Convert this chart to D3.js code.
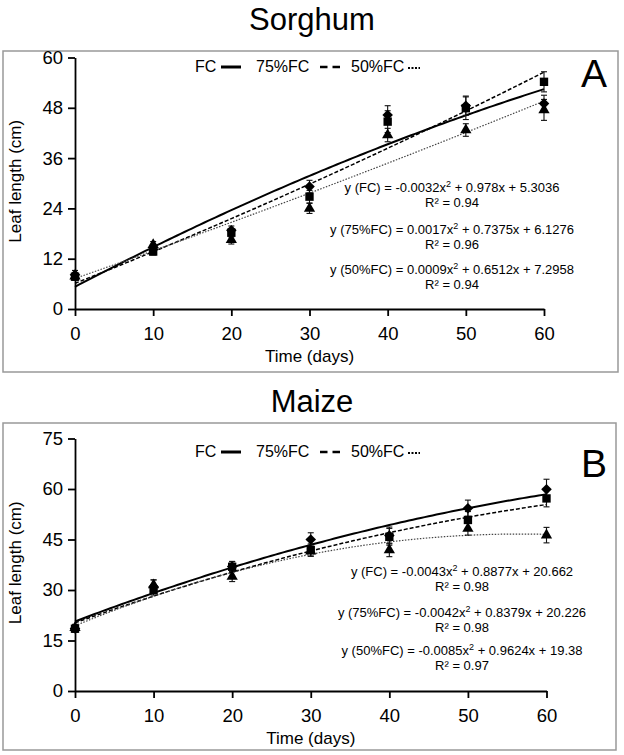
<!DOCTYPE html>
<html>
<head>
<meta charset="utf-8">
<script src="https://cdn.jsdelivr.net/npm/d3@7"></script>
<style>
  body { margin: 0; background: #fff; }
  text { font-family: Arial, "Liberation Sans", sans-serif; fill: #000; }
</style>
</head>
<body>
<script>
// data
const days = [0, 10, 20, 30, 40, 50, 60];
const seriesNames = ["FC", "75%FC", "50%FC"];

// sorghum
const sorghumFC = [8.2, 14.2, 18.8, 29.2, 46.3, 48.5, 49.0];
const sorghum75 = [7.7, 13.7, 18.2, 26.8, 44.7, 47.9, 54.2];
const sorghum50 = [7.8, 15.3, 16.5, 24.0, 41.5, 42.7, 47.5];
const sorghumFCErr = [1.0, 0.8, 1.0, 1.5, 2.2, 2.3, 2.0];
const sorghum75Err = [0.8, 0.8, 1.0, 1.5, 2.6, 2.7, 2.4];
const sorghum50Err = [0.8, 0.8, 1.0, 1.2, 1.6, 1.5, 2.5];
const sorghumFit = [[-0.0032, 0.978, 5.3036], [0.0017, 0.7375, 6.1276], [0.0009, 0.6512, 7.2958]];
const sorghumR2 = [0.94, 0.96, 0.94];
const sorghumTicks = [0, 12, 24, 36, 48, 60];

// maize
const maizeFC = [18.6, 31.0, 37.0, 45.0, 46.2, 54.3, 59.9];
const maize75 = [18.5, 30.0, 36.9, 41.9, 45.8, 50.8, 57.2];
const maize50 = [18.8, 31.5, 34.0, 41.5, 41.9, 48.3, 46.3];
const maizeFCErr = [1.0, 2.0, 1.5, 2.0, 2.5, 2.4, 3.0];
const maize75Err = [1.0, 1.5, 1.5, 1.8, 2.5, 2.5, 2.5];
const maize50Err = [1.0, 1.5, 1.5, 1.5, 2.0, 2.0, 2.3];
const maizeFit = [[-0.0043, 0.8877, 20.662], [-0.0042, 0.8379, 20.226], [-0.0085, 0.9624, 19.38]];
const maizeR2 = [0.98, 0.98, 0.97];
const maizeTicks = [0, 15, 30, 45, 60, 75];

const xTicks = [0, 10, 20, 30, 40, 50, 60];

//////

const svg = d3.select("body").append("svg")
    .attr("width", 624)
    .attr("height", 755);

const lineStyle = [
    {w: 2, dash: null, color: "#000"},
    {w: 1.5, dash: "4,2", color: "#000"},
    {w: 1.2, dash: "1.5,1.5", color: "#444"}
];

function fmt(v) {
    return v < 0 ? "-" + Math.abs(v) : "" + v;
}

function drawPanel(p) {
    const g = svg.append("g");

    // title
    g.append("text")
        .attr("x", 312).attr("y", p.titleY)
        .attr("text-anchor", "middle")
        .attr("font-size", 31)
        .text(p.title);

    // frame
    g.append("rect")
        .attr("x", p.box[0]).attr("y", p.box[1])
        .attr("width", p.box[2] - p.box[0]).attr("height", p.box[3] - p.box[1])
        .attr("fill", "none").attr("stroke", "#999").attr("stroke-width", 1.5);

    const x = d3.scaleLinear().domain([0, 60]).range([p.x0, p.x1]);
    const y = d3.scaleLinear().domain([0, p.yTicks[p.yTicks.length - 1]]).range([p.y0, p.y1]);

    const xAxis = g.append("g")
        .attr("transform", `translate(0,${p.y0})`)
        .call(d3.axisBottom(x).tickValues(xTicks).tickSize(7).tickSizeOuter(0).tickPadding(11));
    const yAxis = g.append("g")
        .attr("transform", `translate(${p.x0},0)`)
        .call(d3.axisLeft(y).tickValues(p.yTicks).tickSize(7).tickSizeOuter(0).tickPadding(5));
    [xAxis, yAxis].forEach(a => {
        a.select(".domain").attr("stroke", "#000").attr("stroke-width", 1.8);
        a.selectAll(".tick line").attr("stroke", "#000").attr("stroke-width", 1.8);
        a.selectAll(".tick text").attr("font-size", 18.5).attr("font-family", "Arial, 'Liberation Sans', sans-serif");
    });

    // axis titles
    g.append("text")
        .attr("x", (p.x0 + p.x1) / 2).attr("y", p.y0 + 53)
        .attr("text-anchor", "middle").attr("font-size", 17)
        .text("Time (days)");
    g.append("text")
        .attr("transform", `translate(21,${(p.y0 + p.y1) / 2 - 2}) rotate(-90)`)
        .attr("text-anchor", "middle").attr("font-size", 17)
        .text("Leaf length (cm)");

    // trend lines
    const xs = d3.range(0, 60.5, 0.5);
    const line = d3.line()
        .x(d => x(d[0]))
        .y(d => y(d[1]));
    p.fit.forEach((c, i) => {
        const pts = xs.map(t => [t, c[0] * t * t + c[1] * t + c[2]]);
        g.append("path")
            .attr("d", line(pts))
            .attr("fill", "none")
            .attr("stroke", lineStyle[i].color)
            .attr("stroke-width", lineStyle[i].w)
            .attr("stroke-dasharray", lineStyle[i].dash);
    });

    // error bars
    p.series.forEach((s, i) => {
        const err = p.errs[i];
        s.forEach((v, j) => {
            const cx = x(days[j]);
            g.append("line")
                .attr("x1", cx).attr("x2", cx)
                .attr("y1", y(v - err[j])).attr("y2", y(v + err[j]))
                .attr("stroke", "#111").attr("stroke-width", 1.1);
            [v - err[j], v + err[j]].forEach(e => {
                g.append("line")
                    .attr("x1", cx - 3).attr("x2", cx + 3)
                    .attr("y1", y(e)).attr("y2", y(e))
                    .attr("stroke", "#111").attr("stroke-width", 1.1);
            });
        });
    });

    // markers: triangles, diamonds, squares on top
    const sym = [
        {type: d3.symbolSquare, size: 56, rot: 45},
        {type: d3.symbolSquare, size: 70, rot: 0},
        {type: d3.symbolTriangle, size: 55, rot: 0}
    ];
    [2, 0, 1].forEach(i => {
        g.selectAll(null)
            .data(p.series[i])
            .join("path")
            .attr("d", d3.symbol(sym[i].type, sym[i].size))
            .attr("transform", (d, j) => `translate(${x(days[j])},${y(d)}) rotate(${sym[i].rot})`)
            .attr("fill", "#000");
    });

    // legend
    const ly = p.legendY;
    g.append("text").attr("x", 195).attr("y", ly).attr("font-size", 16).text(seriesNames[0]);
    g.append("line").attr("x1", 221).attr("x2", 241).attr("y1", ly - 5).attr("y2", ly - 5)
        .attr("stroke", "#000").attr("stroke-width", 3);
    g.append("text").attr("x", 256).attr("y", ly).attr("font-size", 16).text(seriesNames[1]);
    g.append("line").attr("x1", 320).attr("x2", 340).attr("y1", ly - 5).attr("y2", ly - 5)
        .attr("stroke", "#000").attr("stroke-width", 2.5).attr("stroke-dasharray", "7.5,5");
    g.append("text").attr("x", 351).attr("y", ly).attr("font-size", 16).text(seriesNames[2]);
    g.append("line").attr("x1", 408).attr("x2", 420).attr("y1", ly - 4).attr("y2", ly - 4)
        .attr("stroke", "#000").attr("stroke-width", 2).attr("stroke-dasharray", "2,1.5");

    // panel letter
    g.append("text")
        .attr("x", 581).attr("y", p.letterY)
        .attr("font-size", 39)
        .text(p.letter);

    // equations
    p.fit.forEach((c, i) => {
        const t = g.append("text")
            .attr("x", p.eqX).attr("y", p.eqY[i])
            .attr("text-anchor", "middle")
            .attr("font-size", 13);
        t.append("tspan").text(`y (${seriesNames[i]}) = ${fmt(c[0])}x`);
        t.append("tspan").attr("font-size", 9).attr("dy", -5).text("2");
        t.append("tspan").attr("dy", 5).text(` + ${c[1]}x + ${c[2]}`);
        g.append("text")
            .attr("x", p.eqX).attr("y", p.eqY[i] + 14.5)
            .attr("text-anchor", "middle")
            .attr("font-size", 13)
            .text(`R\u00b2 = ${p.r2[i].toFixed(2)}`);
    });
}

drawPanel({
    title: "Sorghum", titleY: 30, letter: "A", letterY: 87,
    box: [3, 51, 618, 372],
    x0: 75, x1: 544, y0: 309, y1: 57.5,
    yTicks: sorghumTicks,
    series: [sorghumFC, sorghum75, sorghum50],
    errs: [sorghumFCErr, sorghum75Err, sorghum50Err],
    fit: sorghumFit, r2: sorghumR2,
    legendY: 72,
    eqX: 452, eqY: [192, 234, 274]
});

drawPanel({
    title: "Maize", titleY: 412, letter: "B", letterY: 477,
    box: [3, 423, 616, 750],
    x0: 75, x1: 546.5, y0: 691, y1: 438.5,
    yTicks: maizeTicks,
    series: [maizeFC, maize75, maize50],
    errs: [maizeFCErr, maize75Err, maize50Err],
    fit: maizeFit, r2: maizeR2,
    legendY: 457,
    eqX: 462, eqY: [576, 617, 655]
});
</script>
</body>
</html>
